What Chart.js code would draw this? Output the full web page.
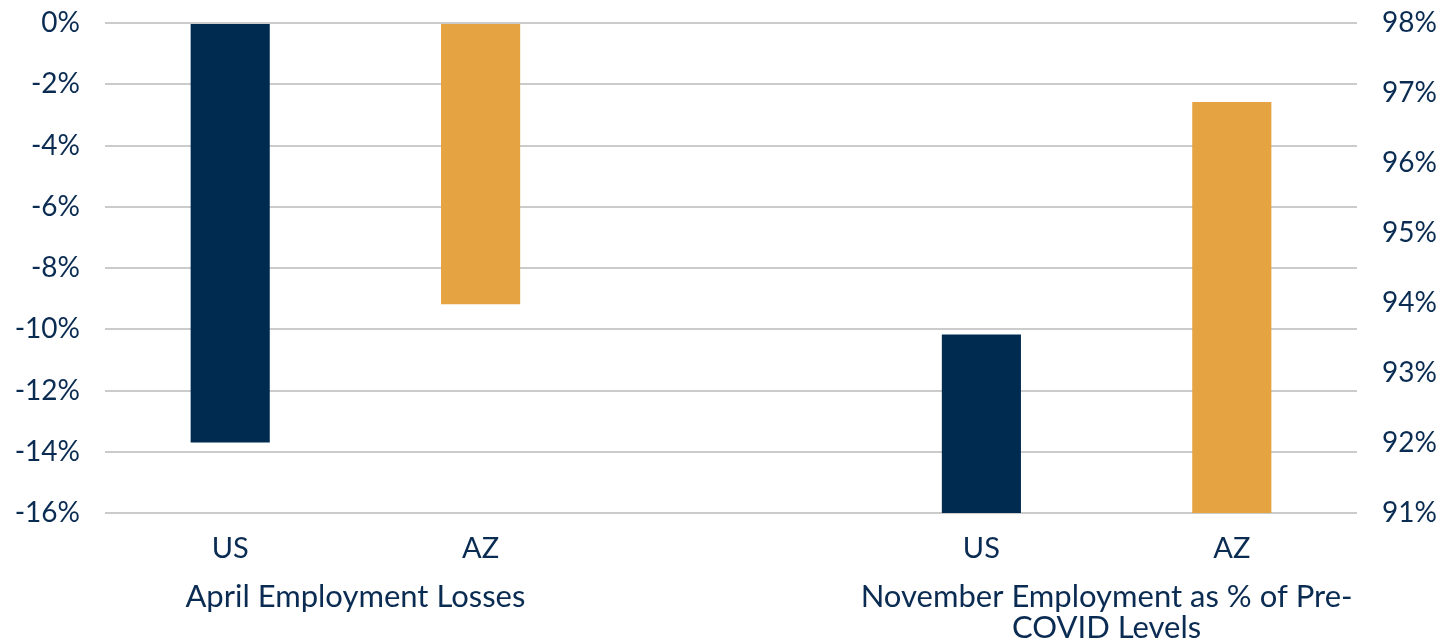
<!DOCTYPE html>
<html>
<head>
<meta charset="utf-8">
<script src="https://cdn.jsdelivr.net/npm/chart.js@4"></script>
<style>
  html, body { margin: 0; padding: 0; background: #fff; }
  #wrap { width: 1451px; height: 641px; position: relative; }
</style>
</head>
<body>
<div id="wrap"><canvas id="Grafica"></canvas></div>
<script>
// categories (middle slot is the gap between the two groups)
const categorias = ['US', 'AZ', '', 'US', 'AZ'];
// April employment losses, % (left axis)
const perdidasAbril = [-13.7, -9.18, null, null, null];
// November employment as % of pre-COVID (right axis)
const empleoNoviembre = [null, null, null, 93.55, 96.87];
// group labels under the categories
const grupos = [
    { desde: 0, hasta: 1, lineas: ['April Employment Losses'] },
    { desde: 3, hasta: 4, lineas: ['November Employment as % of Pre-', 'COVID Levels'] }
];
const colores = ['#002B51', '#E6A342', '#002B51', '#002B51', '#E6A342'];

const azulTexto = '#0B2C52';
const fuente = 'Lato, "Noto Sans", sans-serif';

const etiquetasGrupo = {
    id: 'etiquetasGrupo',
    afterDraw(chart) {
        const ctx = chart.ctx;
        const x = chart.scales.x;
        ctx.save();
        ctx.fillStyle = azulTexto;
        ctx.font = '31px ' + fuente;
        ctx.textAlign = 'center';
        ctx.textBaseline = 'middle';
        grupos.forEach(function(g){
            const cx = (x.getPixelForValue(g.desde) + x.getPixelForValue(g.hasta)) / 2;
            g.lineas.forEach(function(l, i){
                ctx.fillText(l, cx, 597 + i * 31);
            });
        });
        ctx.restore();
    }
};

// vertical axes: fixed width, no extra top/bottom room for labels
function ajustarEje(ancho) {
    return function(s){
        s.width = ancho;
        s.paddingTop = 0;
        s.paddingBottom = 0;
    };
}

const ctx = document.getElementById('Grafica').getContext('2d');
const grafica = new Chart(ctx, {
    type: 'bar',
    data: {
        labels: categorias,
        datasets: [{
            label: 'April Employment Losses',
            data: perdidasAbril,
            backgroundColor: colores,
            yAxisID: 'y',
            grouped: false,
            barPercentage: 0.316,
            categoryPercentage: 1
        }, {
            label: 'November Employment as % of Pre-COVID Levels',
            data: empleoNoviembre,
            backgroundColor: colores,
            yAxisID: 'y2',
            grouped: false,
            barPercentage: 0.316,
            categoryPercentage: 1
        }]
    },
    options: {
        responsive: true,
        maintainAspectRatio: false,
        animation: false,
        layout: { padding: { top: 23 } },
        plugins: {
            legend: { display: false },
            tooltip: { enabled: false }
        },
        scales: {
            x: {
                grid: { display: false },
                border: { display: false },
                ticks: { color: azulTexto, font: { family: fuente, size: 29 }, padding: 10, maxRotation: 0 },
                afterFit: function(s){ s.height = 128; }
            },
            y: {
                position: 'left',
                min: -16, max: 0,
                ticks: {
                    stepSize: 2, padding: 25, color: azulTexto,
                    font: { family: fuente, size: 28 },
                    callback: function(v){ return v + '%'; }
                },
                grid: { color: '#cbcbcb', lineWidth: 2, drawTicks: false },
                border: { display: false },
                afterFit: ajustarEje(105)
            },
            y2: {
                position: 'right',
                min: 91, max: 98,
                ticks: {
                    stepSize: 1, padding: 25, color: azulTexto,
                    font: { family: fuente, size: 28 },
                    callback: function(v){ return v + '%'; }
                },
                grid: { display: false, drawTicks: false },
                border: { display: false },
                afterFit: ajustarEje(94)
            }
        }
    },
    plugins: [etiquetasGrupo]
});
</script>
</body>
</html>
